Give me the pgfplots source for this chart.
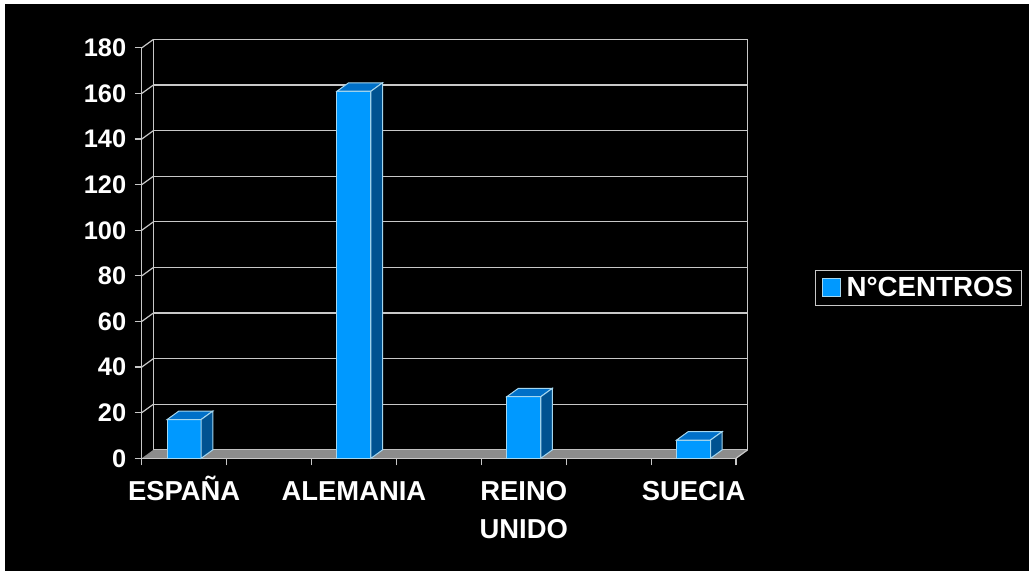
\documentclass[border=0pt]{standalone}
\usepackage{fontspec}
\setmainfont{Liberation Sans}
\usepackage{pgfplots}
\usepackage{pgfplotstable}
\pgfplotsset{compat=1.18}
\definecolor{barfront}{RGB}{0,153,255}
\definecolor{bartop}{RGB}{0,112,200}
\definecolor{barside}{RGB}{0,82,145}
\definecolor{baredge}{RGB}{165,215,240}
\definecolor{gridc}{RGB}{200,200,200}
\definecolor{floorc}{RGB}{140,140,140}

\pgfplotstableread{
x v
0 17
2 161
4 27
6 8
}\datatable

% top and side faces of a 3-D column, drawn at the data point (centre of the top front edge)
\pgfdeclareplotmark{prism}{%
  \pgfmathsetmacro\hh{\barval*2.28}%
  \pgfmathsetmacro\yb{8.4-\hh}%
  \pgfsetlinewidth{1bp}%
  \pgfsetstrokecolor{baredge}%
  \pgfsetfillcolor{bartop}%
  \pgfpathmoveto{\pgfpoint{-17bp}{0bp}}%
  \pgfpathlineto{\pgfpoint{17bp}{0bp}}%
  \pgfpathlineto{\pgfpoint{28.6bp}{8.4bp}}%
  \pgfpathlineto{\pgfpoint{-5.4bp}{8.4bp}}%
  \pgfpathclose
  \pgfusepath{fill,stroke}%
  \pgfsetfillcolor{barside}%
  \pgfpathmoveto{\pgfpoint{17bp}{0bp}}%
  \pgfpathlineto{\pgfpoint{28.6bp}{8.4bp}}%
  \pgfpathlineto{\pgfpoint{28.6bp}{\yb bp}}%
  \pgfpathlineto{\pgfpoint{17bp}{-\hh bp}}%
  \pgfpathclose
  \pgfusepath{fill,stroke}%
}

\begin{document}
\begin{tikzpicture}
\fill[white] (0bp,0bp) rectangle (1029bp,571bp);
\fill[black] (5bp,0bp) rectangle (1029bp,567bp);

% back wall with gridlines
\begin{axis}[
  at={(153.3bp,121.1bp)}, anchor=south west,
  scale only axis, width=594.3bp, height=410.4bp,
  xmin=-0.5, xmax=6.5, ymin=0, ymax=180,
  xtick=\empty, ytick={0,20,...,180}, yticklabels={},
  major tick length=0pt,
  ymajorgrids, grid style={gridc, line width=1.2bp},
  axis line style={gridc, line width=1.2bp},
]
\end{axis}

% front axis with bars
\begin{axis}[
  at={(141.7bp,112.7bp)}, anchor=south west,
  scale only axis, width=594.3bp, height=410.4bp,
  xmin=-0.5, xmax=6.5, ymin=0, ymax=180,
  clip=false,
  axis x line*=bottom, axis y line*=left,
  axis line style={gridc, line width=1.2bp, -},
  x axis line style={-}, y axis line style={-},
  xtick={-0.5,0.5,...,6.5}, xticklabels={},
  extra x ticks={0,2,4,6},
  extra x tick labels={ESPAÑA,\vphantom{Ñ}ALEMANIA,{\vphantom{Ñ}REINO\\UNIDO},\vphantom{Ñ}SUECIA},
  extra x tick style={major tick length=0pt},
  ytick={0,20,...,180},
  tick align=outside, major tick length=7bp,
  tick style={gridc, line width=1.2bp},
  xticklabel style={font=\fontsize{27.5}{38}\selectfont\bfseries, text=white, align=center, yshift=-14bp},
  yticklabel style={font=\fontsize{25.5}{30}\selectfont\bfseries, text=white, xshift=-5bp},
  /pgf/number format/assume math mode=true,
  legend style={at={(1.133,0.415)}, anchor=west, draw=gridc, fill=black, text=white,
    line width=1.2bp, font=\fontsize{27.8}{32}\selectfont\bfseries,
    inner xsep=6bp, inner ysep=5bp,
    /tikz/every odd column/.append style={column sep=4bp}},
  legend image code/.code={\draw[fill=barfront, draw=baredge, line width=1bp] (0bp,-9bp) rectangle (18bp,9bp);},
]
% floor
\fill[floorc] (axis cs:-0.5,0) -- (axis cs:6.5,0) -- ([shift={(11.6bp,8.4bp)}]axis cs:6.5,0) -- ([shift={(11.6bp,8.4bp)}]axis cs:-0.5,0) -- cycle;
\draw[gridc, line width=1.2bp] (axis cs:6.5,0) -- ++(11.6bp,8.4bp);
\draw[gridc, line width=1.2bp] (axis cs:-0.5,0) -- (axis cs:6.5,0);
% side wall lines
\pgfplotsinvokeforeach{20,40,...,180}{\draw[gridc, line width=1.2bp] (axis cs:-0.5,#1) -- ++(11.6bp,8.4bp);}
\addplot[ybar, bar width=0.4, fill=barfront, draw=baredge, line width=1bp] table[x=x, y=v] {\datatable};
\addlegendentry{N°CENTROS}
\addplot[only marks, mark=prism, forget plot, visualization depends on={rawy \as \barval}] table[x=x, y=v] {\datatable};
\end{axis}
\end{tikzpicture}
\end{document}
